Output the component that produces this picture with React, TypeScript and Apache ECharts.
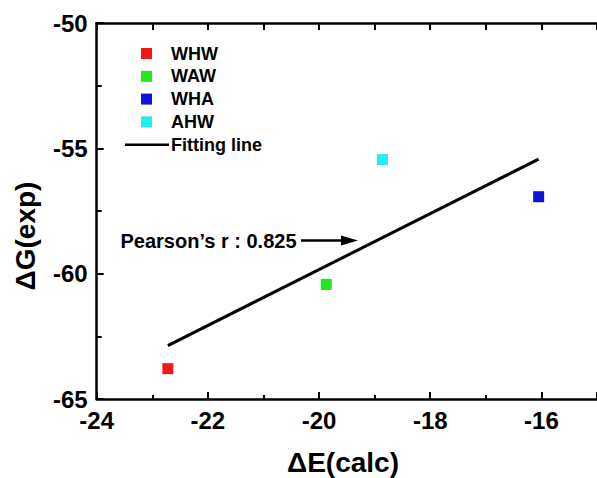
import React, { useEffect, useRef } from "react";
import * as echarts from "echarts";

const seriesNames = ["WHW", "WAW", "WHA", "AHW"];
const seriesColors = ["#ee1a1a", "#22e622", "#1010e0", "#22eeee"];
const calcEnergy = [-22.72, -19.87, -16.05, -18.86];
const expEnergy = [-63.79, -60.43, -56.93, -55.45];
const fitX = [-22.72, -16.05];
const fitY = [-62.87, -55.43];
const fitName = "Fitting line";
const pearsonText = "Pearson\u2019s r : 0.825";
const xTitle = "\u0394E(calc)";
const yTitle = "\u0394G(exp)";

const FONT = "'Liberation Sans', Arial, sans-serif";

export default function App() {
  const ref = useRef<HTMLDivElement>(null);
  useEffect(() => {
    if (!ref.current) return;
    const chart = echarts.init(ref.current, undefined, { renderer: "svg" });

    const scatterSeries = seriesNames.map((name, i) => ({
      name,
      type: "scatter",
      symbol: "rect",
      symbolSize: 11,
      itemStyle: { color: seriesColors[i], opacity: 1 },
      data: [[calcEnergy[i], expEnergy[i]]],
      z: 3,
    }));

    const legendGraphics: any[] = [];
    const legX = 146.5;
    const legY0 = 53.5;
    const legStep = 22.8;
    seriesNames.forEach((name, i) => {
      const cy = legY0 + i * legStep;
      legendGraphics.push({
        type: "rect",
        shape: { x: legX - 5.5, y: cy - 5.5, width: 11, height: 11 },
        style: { fill: seriesColors[i] },
      });
      legendGraphics.push({
        type: "text",
        x: 171,
        y: cy,
        style: {
          text: name,
          font: `bold 18px ${FONT}`,
          fill: "#000",
          verticalAlign: "middle",
          align: "left",
        },
      });
    });
    const lineY = legY0 + 4 * legStep;
    legendGraphics.push({
      type: "line",
      shape: { x1: 125, y1: lineY, x2: 169, y2: lineY },
      style: { stroke: "#000", lineWidth: 2.5 },
    });
    legendGraphics.push({
      type: "text",
      x: 171,
      y: lineY,
      style: {
        text: fitName,
        font: `bold 18px ${FONT}`,
        fill: "#000",
        verticalAlign: "middle",
        align: "left",
      },
    });

    chart.setOption({
      animation: false,
      backgroundColor: "#fff",
      grid: { left: 96.7, top: 23, bottom: 79, right: -9.7, containLabel: false },
      xAxis: [
        {
          type: "value",
          position: "bottom",
          min: -24,
          max: -15,
          interval: 2,
          axisLine: { show: true, onZero: false, lineStyle: { color: "#000", width: 2.5 } },
          axisTick: { show: true, inside: true, length: 7, lineStyle: { color: "#000", width: 2 } },
          minorTick: { show: true, splitNumber: 2, length: 4, lineStyle: { color: "#000", width: 2 } },
          axisLabel: {
            show: true,
            showMaxLabel: false,
            margin: 9,
            fontSize: 24,
            fontWeight: "bold",
            fontFamily: FONT,
            color: "#000",
          },
          splitLine: { show: false },
        },
        {
          type: "value",
          position: "top",
          min: -24,
          max: -15,
          interval: 1,
          axisLine: { show: true, onZero: false, lineStyle: { color: "#000", width: 2.5 } },
          axisTick: { show: true, inside: true, length: 7, lineStyle: { color: "#000", width: 2 } },
          axisLabel: { show: false },
          splitLine: { show: false },
        },
      ],
      yAxis: [
        {
          type: "value",
          position: "left",
          min: -65,
          max: -50,
          interval: 5,
          axisLine: { show: true, onZero: false, lineStyle: { color: "#000", width: 2.5 } },
          axisTick: { show: true, inside: true, length: 7, lineStyle: { color: "#000", width: 2 } },
          minorTick: { show: true, splitNumber: 2, length: 5, lineStyle: { color: "#000", width: 2 } },
          axisLabel: {
            show: true,
            margin: 9,
            fontSize: 24,
            fontWeight: "bold",
            fontFamily: FONT,
            color: "#000",
          },
          splitLine: { show: false },
        },
      ],
      series: [
        ...scatterSeries,
        {
          name: fitName,
          type: "line",
          data: fitX.map((x, i) => [x, fitY[i]]),
          symbol: "none",
          lineStyle: { color: "#000", width: 3 },
          z: 2,
        },
      ],
      graphic: [
        ...legendGraphics,
        {
          type: "text",
          x: 120.5,
          y: 241,
          style: {
            text: pearsonText,
            font: `bold 20px ${FONT}`,
            fill: "#000",
            verticalAlign: "middle",
            align: "left",
          },
        },
        {
          type: "line",
          shape: { x1: 301, y1: 240.5, x2: 345, y2: 240.5 },
          style: { stroke: "#000", lineWidth: 2.5 },
        },
        {
          type: "polygon",
          shape: { points: [[341, 235.5], [358, 240.5], [341, 245.5]] },
          style: { fill: "#000" },
        },
        {
          type: "text",
          x: 343,
          y: 462,
          style: {
            text: xTitle,
            font: `bold 28px ${FONT}`,
            fill: "#000",
            verticalAlign: "middle",
            align: "center",
          },
        },
        {
          type: "text",
          x: 25,
          y: 236,
          rotation: Math.PI / 2,
          style: {
            text: yTitle,
            font: `bold 28px ${FONT}`,
            fill: "#000",
            verticalAlign: "middle",
            align: "center",
          },
        },
      ],
    });
    return () => chart.dispose();
  }, []);
  return (
    <div
      ref={ref}
      style={{ position: "fixed", left: 0, top: 0, width: 597, height: 478, background: "#fff" }}
    />
  );
}
